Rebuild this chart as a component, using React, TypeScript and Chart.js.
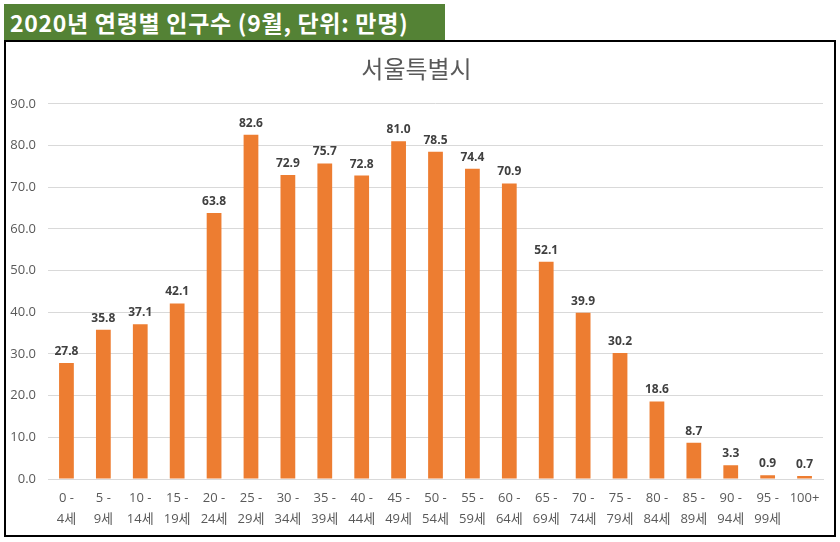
import React, { useEffect, useRef } from "react";
import { Chart, registerables } from "chart.js";

Chart.register(...registerables);

const pageTitle = "2020년 연령별 인구수 (9월, 단위: 만명)";
const chartTitle = "서울특별시";
const categories: (string | string[])[] = [
  ["0 -", "4세"], ["5 -", "9세"], ["10 -", "14세"], ["15 -", "19세"], ["20 -", "24세"],
  ["25 -", "29세"], ["30 -", "34세"], ["35 -", "39세"], ["40 -", "44세"], ["45 -", "49세"],
  ["50 -", "54세"], ["55 -", "59세"], ["60 -", "64세"], ["65 -", "69세"], ["70 -", "74세"],
  ["75 -", "79세"], ["80 -", "84세"], ["85 -", "89세"], ["90 -", "94세"], ["95 -", "99세"],
  "100+",
];
const population = [
  27.8, 35.8, 37.1, 42.1, 63.8, 82.6, 72.9, 75.7, 72.8, 81.0, 78.5, 74.4, 70.9, 52.1, 39.9,
  30.2, 18.6, 8.7, 3.3, 0.9, 0.7,
];
const yMin = 0;
const yMax = 90;
const yStep = 10;

const FONT = "'Noto Sans CJK KR', 'Noto Sans', sans-serif";
const NUMFONT = "'Open Sans', 'Noto Sans CJK KR', sans-serif";

const dataLabelPlugin = {
  id: "dataLabels",
  afterDatasetsDraw(chart: any) {
    const ctx = chart.ctx;
    const meta = chart.getDatasetMeta(0);
    const data = chart.data.datasets[0].data as number[];
    ctx.save();
    ctx.font = `bold 12px ${NUMFONT}`;
    ctx.fillStyle = "#404040";
    ctx.textAlign = "center";
    ctx.textBaseline = "alphabetic";
    meta.data.forEach((bar: any, i: number) => {
      ctx.fillText(data[i].toFixed(1), bar.x, bar.y - 8);
    });
    ctx.restore();
  },
};

export default function App() {
  const canvasRef = useRef<HTMLCanvasElement | null>(null);

  useEffect(() => {
    if (!canvasRef.current) return;
    const chart = new Chart(canvasRef.current, {
      type: "bar",
      data: {
        labels: categories,
        datasets: [
          {
            data: population,
            backgroundColor: "#ED7D31",
            borderWidth: 0,
            barPercentage: 0.8,
            categoryPercentage: 0.5,
          },
        ],
      },
      options: {
        animation: false,
        responsive: true,
        maintainAspectRatio: false,
        layout: { padding: { left: 4, right: 11, top: 0, bottom: 0 } },
        plugins: {
          legend: { display: false },
          tooltip: { enabled: false },
          title: {
            display: true,
            text: chartTitle,
            color: "#595959",
            font: { family: FONT, size: 24, weight: "normal" },
            padding: { top: 12, bottom: 21 },
          },
        },
        scales: {
          x: {
            grid: { display: false, drawTicks: false },
            border: { display: true, color: "#d9d9d9", width: 1 },
            ticks: {
              color: "#595959",
              font: { family: NUMFONT, size: 13, lineHeight: 1.68 },
              padding: 8,
              maxRotation: 0,
              autoSkip: false,
            },
            afterFit: (scale: any) => {
              scale.height = 56;
            },
          },
          y: {
            min: yMin,
            max: yMax,
            grid: { color: "#d9d9d9", drawTicks: false },
            border: { display: false },
            ticks: {
              stepSize: yStep,
              color: "#595959",
              font: { family: NUMFONT, size: 13 },
              padding: 12,
              callback: (v: any) => Number(v).toFixed(1),
            },
            afterFit: (scale: any) => {
              scale.width = 38;
            },
          },
        },
      },
      plugins: [dataLabelPlugin],
    });
    return () => chart.destroy();
  }, []);

  return (
    <div style={{ position: "absolute", left: 0, top: 0, width: 840, height: 542, background: "#fff" }}>
      <div
        style={{
          position: "absolute",
          left: 4,
          top: 4,
          width: 441,
          height: 36,
          background: "#548235",
          color: "#fff",
          fontFamily: FONT,
          fontWeight: "bold",
          fontSize: 23,
          letterSpacing: 0.7,
          lineHeight: "36px",
          paddingLeft: 6,
          boxSizing: "border-box",
          whiteSpace: "nowrap",
          overflow: "hidden",
        }}
      >
        {pageTitle}
      </div>
      <div
        style={{
          position: "absolute",
          left: 4,
          top: 40,
          width: 832,
          height: 497,
          border: "2px solid #000",
          boxSizing: "border-box",
          background: "#fff",
        }}
      >
        <div style={{ position: "relative", width: 828, height: 493 }}>
          <canvas ref={canvasRef} />
        </div>
      </div>
    </div>
  );
}
